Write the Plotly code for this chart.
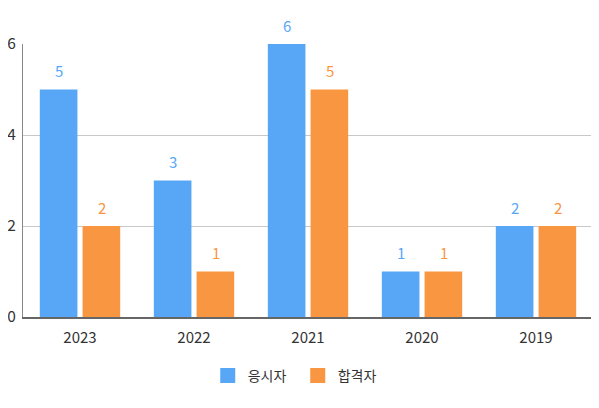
import plotly.graph_objects as go

years = ['2023', '2022', '2021', '2020', '2019']
applicants = [5, 3, 6, 1, 2]
passed = [2, 1, 5, 1, 2]
series_names = ['응시자', '합격자']

blue = '#58A7F6'
orange = '#F99641'
font = 'Noto Sans CJK KR'

fig = go.Figure()
for name, vals, col, shift in [(series_names[0], applicants, blue, -21.5),
                               (series_names[1], passed, orange, 21.5)]:
    fig.add_trace(go.Bar(
        x = years, y = vals, name = name, showlegend = False,
        marker = dict(color = col, line = dict(width = 0)),
    ))
    # value labels floating above each bar (category index on x)
    for i, v in enumerate(vals):
        fig.add_annotation(
            x = i, y = v, text = str(v), showarrow = False,
            xshift = shift, yshift = 19,
            font = dict(color = col, size = 15, family = font),
        )
    # legend entry with a bigger square swatch
    fig.add_trace(go.Scatter(
        x = [years[0]], y = [None], mode = 'markers', name = name,
        marker = dict(symbol = 'square', size = 15, color = col),
    ))

# page body has an 8px margin, so margins are shifted to compensate
fig.update_layout(
    width = 599, height = 408,
    margin = dict(l = 15, r = 14, t = 36, b = 99),
    paper_bgcolor = 'white', plot_bgcolor = 'white',
    barmode = 'group', bargap = 0.25, bargroupgap = 0.12,
    font = dict(family = font, size = 14, color = '#333333'),
    showlegend = True,
    legend = dict(
        orientation = 'h', x = 0.482, xanchor = 'center', y = -0.216, yanchor = 'middle',
        font = dict(size = 14, color = '#333333'), itemwidth = 30, entrywidth = 45,
    ),
    xaxis = dict(
        type = 'category', categoryorder = 'array', categoryarray = years,
        showline = True, linecolor = '#666666', linewidth = 1.5, automargin = False,
        ticks = '', ticklabelstandoff = 6, tickfont = dict(size = 15, color = '#333333'),
    ),
    yaxis = dict(
        range = [0, 6], dtick = 2, showline = True, linecolor = '#888888', linewidth = 1,
        gridcolor = '#C8C8C8', gridwidth = 1, zeroline = False, automargin = False,
        ticks = '', ticklabelstandoff = 3, tickfont = dict(size = 15.5, color = '#333333'),
    ),
)

fig.write_html('out.html')
